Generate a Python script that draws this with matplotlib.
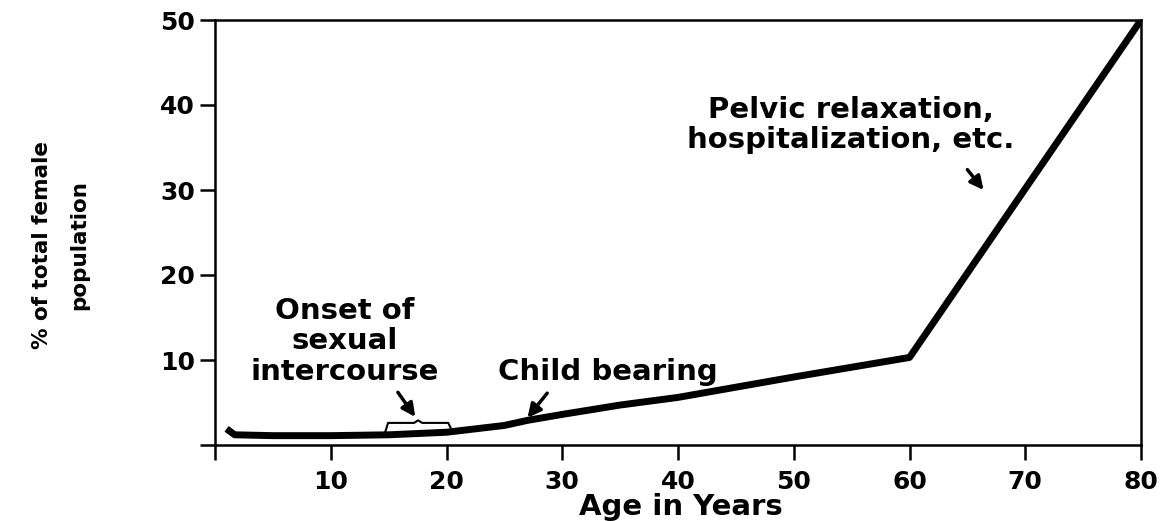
import matplotlib
matplotlib.use("Agg")
from matplotlib import pyplot as plt
from matplotlib import font_manager
import numpy as np

# age (years) vs. % of total female population
ages = [1.0, 1.7, 5, 10, 15, 20, 25, 27, 30, 35, 40, 50, 60, 80]
pct = [1.9, 1.2, 1.1, 1.1, 1.2, 1.5, 2.3, 2.9, 3.6, 4.7, 5.6, 8.0, 10.3, 50]

x_ticks = [0, 10, 20, 30, 40, 50, 60, 70, 80]
x_labels = ['', '10', '20', '30', '40', '50', '60', '70', '80']
y_ticks = [0, 10, 20, 30, 40, 50]
y_labels = ['', '10', '20', '30', '40', '50']

# annotations: text, text position, alignment, arrow tail, arrow tip
notes = [
    ("Onset of\nsexual\nintercourse", (11.2, 7.65), 'center', (15.8, 6.2), (17.3, 3.3)),
    ("Child bearing", (24.45, 7.65), 'left', (28.7, 6.1), (27.0, 3.2)),
    ("Pelvic relaxation,\nhospitalization, etc.", (54.9, 34.9), 'center', (65.0, 32.4), (66.4, 30.0)),
]

# brace under the "onset" arrow
brace_left, brace_right = 14.7, 20.4
brace_low, brace_high = 1.5, 2.6

plt.rcParams['font.family'] = ['DejaVu Sans']
plt.rcParams['font.weight'] = 'bold'

names = {f.name for f in font_manager.fontManager.ttflist}
if 'Liberation Sans Narrow' in names:
    ylab_font = dict(family=['Liberation Sans Narrow', 'DejaVu Sans'], fontsize=21, linespacing=1.75)
else:
    ylab_font = dict(family=['DejaVu Sans'], fontsize=15.5, linespacing=2.1)

fig = plt.figure(figsize=(11.65, 5.21), dpi=100)
ax = fig.add_axes([215 / 1165, 76 / 521, 926 / 1165, 425 / 521])

ax.plot(ages, pct, color='black', lw=5, solid_capstyle='butt')

ax.set_xlim(0, 80)
ax.set_ylim(0, 50)
ax.set_xticks(x_ticks)
ax.set_xticklabels(x_labels)
ax.set_yticks(y_ticks)
ax.set_yticklabels(y_labels)
ax.tick_params(axis='both', direction='out', length=11, width=1.8, labelsize=18, colors='black')
ax.tick_params(axis='x', pad=7)
ax.tick_params(axis='y', pad=3.5)
for s in ax.spines.values():
    s.set_linewidth(1.8)
    s.set_color('black')

ax.set_xlabel("Age in Years", fontsize=21, fontweight='bold', va='baseline')
ax.xaxis.set_label_coords(0.503, -0.165)
ax.set_ylabel("% of total female\npopulation", fontweight='bold', va='center', ha='center', **ylab_font)
ax.yaxis.set_label_coords(-0.167, 0.47)

for txt, pos, ha, tail, tip in notes:
    ax.text(pos[0], pos[1], txt, fontsize=21, fontweight='bold', ha=ha, va='baseline',
            multialignment='center', linespacing=1.12)
    ax.annotate('', xy=tip, xytext=tail,
                arrowprops=dict(arrowstyle='-|>', color='black', lw=2.5, mutation_scale=20,
                                shrinkA=0, shrinkB=0))

mid = (brace_left + brace_right) / 2
bx = [brace_left, brace_left + 0.25, mid - 0.35, mid, mid + 0.35, brace_right - 0.25, brace_right]
by = [brace_low, brace_high, brace_high, brace_high + 0.3, brace_high, brace_high, brace_low + 0.4]
ax.plot(bx, by, color='black', lw=1.5, solid_joinstyle='round')

fig.savefig('out.png', dpi=100, facecolor='white')
